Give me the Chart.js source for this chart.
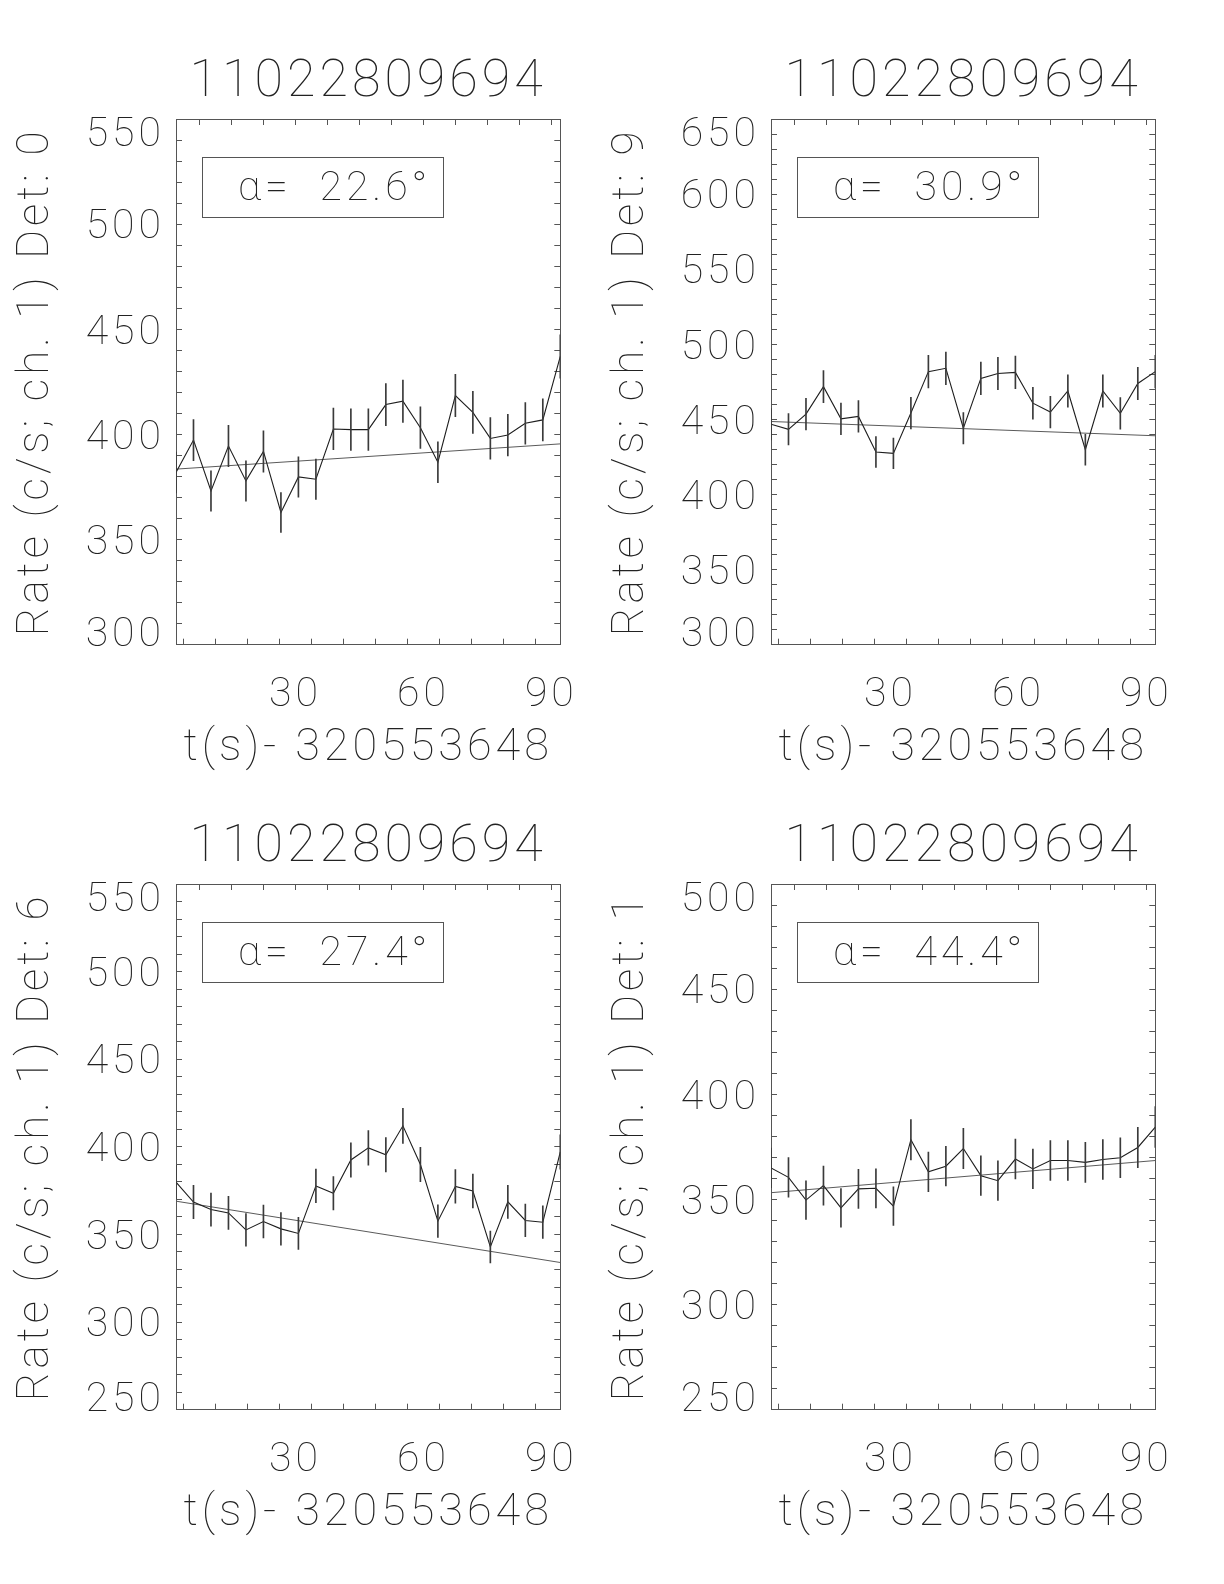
<!DOCTYPE html>
<html>
<head>
<meta charset="utf-8">
<script src="https://cdn.jsdelivr.net/npm/chart.js@4.4.1/dist/chart.umd.min.js"></script>
<style>
  html, body { margin: 0; padding: 0; background: #fff; }
  body { width: 1224px; height: 1584px; position: relative; overflow: hidden; }
  canvas { position: absolute; }
</style>
</head>
<body>
<canvas id="det0" width="612" height="792" style="left:0;top:0"></canvas>
<canvas id="det9" width="612" height="792" style="left:595px;top:0"></canvas>
<canvas id="det6" width="612" height="792" style="left:0;top:765px"></canvas>
<canvas id="det1" width="612" height="792" style="left:595px;top:765px"></canvas>
<script>
const obsId = '11022809694';
const timeOffset = '320553648';

// bin centres, seconds after the offset
const timeBins = [2.0, 6.1, 10.2, 14.3, 18.4, 22.5, 26.6, 30.7, 34.8, 38.9, 43.0, 47.1,
  51.2, 55.2, 59.3, 63.4, 67.5, 71.6, 75.7, 79.8, 83.9, 88.0, 92.1];
const xTickLabels = [30, 60, 90];

// detector 0
const rateDet0 = [381.9, 397.3, 373.1, 394.5, 377.9, 391.9, 362.9, 379.8, 378.7, 402.6, 402.3, 402.3,
  414.2, 415.8, 403.2, 386.8, 418.5, 410.5, 398.1, 399.7, 405.3, 406.9, 437.1];
const errDet0 = [9.7, 9.8, 9.6, 9.8, 9.6, 9.8, 9.5, 9.6, 9.6, 9.9, 9.9, 9.9,
  10.0, 10.1, 9.9, 9.7, 10.1, 10.0, 9.9, 9.9, 9.9, 10.0, 10.3];
const fitDet0 = [383.5, 395.5];
const yTicksDet0 = [300, 350, 400, 450, 500, 550];

// detector 9
const rateDet9 = [446.8, 443.4, 453.5, 471.8, 450.4, 452.0, 428.3, 427.4, 454.2, 481.8, 484.0, 444.1,
  477.3, 480.6, 481.3, 460.8, 454.9, 468.9, 429.8, 468.9, 454.0, 473.9, 481.8];
const errDet9 = [10.4, 10.4, 10.5, 10.7, 10.5, 10.5, 10.2, 10.2, 10.5, 10.8, 10.9, 10.4,
  10.8, 10.8, 10.8, 10.6, 10.5, 10.7, 10.2, 10.7, 10.5, 10.8, 10.8];
const fitDet9 = [448.6, 439.1];
const yTicksDet9 = [300, 350, 400, 450, 500, 550, 600, 650];

// detector 6
const rateDet6 = [379.9, 368.5, 364.2, 362.3, 352.6, 357.4, 353.2, 350.6, 377.7, 373.5, 392.5, 399.4,
  395.5, 412.0, 389.9, 357.6, 377.4, 374.8, 342.9, 368.6, 358.0, 357.0, 397.1];
const errDet6 = [9.6, 9.5, 9.4, 9.4, 9.3, 9.3, 9.3, 9.2, 9.6, 9.5, 9.8, 9.9,
  9.8, 10.0, 9.8, 9.3, 9.6, 9.6, 9.1, 9.5, 9.3, 9.3, 9.8];
const fitDet6 = [369.0, 334.0];
const yTicksDet6 = [250, 300, 350, 400, 450, 500, 550];

// detector 1
const rateDet1 = [365.0, 360.5, 349.7, 356.6, 346.0, 355.0, 355.3, 346.8, 378.4, 363.1, 365.8, 374.2,
  361.3, 358.9, 369.2, 364.5, 368.5, 368.5, 367.6, 369.0, 369.8, 374.7, 384.4];
const errDet1 = [9.4, 9.4, 9.2, 9.3, 9.2, 9.3, 9.3, 9.2, 9.6, 9.4, 9.4, 9.6,
  9.4, 9.4, 9.5, 9.4, 9.5, 9.5, 9.5, 9.5, 9.5, 9.6, 9.7];
const fitDet1 = [353.2, 368.5];
const yTicksDet1 = [250, 300, 350, 400, 450, 500];

const ink = '#222';
const family = 'Roboto';
const weight = 100;
const sizes = {title: 52, tick: 41, yTitle: 44, xTitle: 45, alpha: 41};

// wide letter spacing, a bit like the old vector fonts
const spacing = {
  id: 'spacing',
  beforeDraw(chart) { chart.ctx.letterSpacing = '4px'; },
  afterDraw(chart) { chart.ctx.letterSpacing = '0px'; }
};

const alphaBox = {
  id: 'alphaBox',
  afterDraw(chart, args, opts) {
    const {ctx, chartArea} = chart;
    ctx.save();
    ctx.strokeStyle = '#555';
    ctx.lineWidth = 1;
    ctx.strokeRect(Math.round(chartArea.left + 26) + 0.5, Math.round(chartArea.top + 38) + 0.5, 241, 60);
    ctx.font = opts.font;
    ctx.fillStyle = ink;
    ctx.letterSpacing = '4px';
    ctx.textBaseline = 'alphabetic';
    ctx.fillText(opts.text, chartArea.left + 62, chartArea.top + 81);
    ctx.restore();
  }
};

function makePanel(id, det, alpha, rates, errs, fit, yTicks) {
  const yMin = yTicks[0];
  const yMax = yTicks[yTicks.length - 1];
  const last = timeBins.length - 1;
  const edgeLabel = v => v === yMax ? ['', String(v)] : v === yMin ? [String(v), ''] : String(v);

  const grid = {
    display: true, drawOnChartArea: false, drawTicks: true,
    tickLength: -6, color: '#555', lineWidth: 1
  };
  const border = {display: true, color: '#555', width: 1};
  const xBuild = s => {
    const vals = [];
    for (let v = 7.5; v <= 90; v += 7.5) vals.push({value: v});
    s.ticks = vals;
  };

  new Chart(document.getElementById(id), {
    type: 'line',
    data: {
      datasets: [
        {
          type: 'bar',
          data: timeBins.map((t, i) => ({x: t, y: [rates[i] - errs[i], rates[i] + errs[i]]})),
          backgroundColor: '#3a3a3a',
          borderWidth: 0,
          barThickness: 1,
          grouped: false
        },
        {
          data: timeBins.map((t, i) => ({x: t, y: rates[i]})),
          borderColor: '#1e1e1e',
          borderWidth: 1.1,
          pointRadius: 0,
          tension: 0,
          fill: false
        },
        {
          data: [{x: timeBins[0], y: fit[0]}, {x: timeBins[last], y: fit[1]}],
          borderColor: '#5a5a5a',
          borderWidth: 1,
          pointRadius: 0,
          fill: false
        }
      ]
    },
    options: {
      responsive: false,
      animation: false,
      events: [],
      layout: {padding: {left: 0, right: 51.7, top: 0, bottom: 0}},
      plugins: {
        legend: {display: false},
        tooltip: {enabled: false},
        alphaBox: {text: 'α=  ' + alpha + '°', font: weight + ' ' + sizes.alpha + 'px "' + family + '"'}
      },
      scales: {
        x: {
          type: 'linear', position: 'bottom', min: timeBins[0], max: timeBins[last], offset: false,
          afterBuildTicks: xBuild,
          afterFit: s => { s.height = 147.3; },
          grid: grid, border: border,
          ticks: {
            autoSkip: false, maxRotation: 0, padding: 32, color: ink,
            font: {family: family, weight: weight, size: sizes.tick},
            callback: v => xTickLabels.includes(v) ? String(v) : ''
          },
          title: {
            display: true, text: 't(s)- ' + timeOffset, color: ink,
            font: {family: family, weight: weight, size: sizes.xTitle},
            padding: {top: 0, bottom: 16}
          }
        },
        x2: {
          type: 'linear', position: 'top', min: timeBins[0], max: timeBins[last], offset: false,
          afterBuildTicks: xBuild,
          afterFit: s => { s.height = 119; },
          grid: grid, border: border,
          ticks: {display: false},
          title: {
            display: true, text: obsId, color: ink,
            font: {family: family, weight: weight, size: sizes.title},
            padding: {top: 52, bottom: 0}
          }
        },
        y: {
          type: 'linear', position: 'left', min: yMin, max: yMax,
          afterFit: s => { s.width = 176; },
          grid: grid, border: border,
          ticks: {
            autoSkip: false, stepSize: 10, padding: 17, labelOffset: 4, color: ink,
            font: c => ({family: family, weight: weight, size: sizes.tick,
              lineHeight: (c.tick && (c.tick.value === yMax || c.tick.value === yMin)) ? 0.62 : 1.2}),
            callback: v => yTicks.includes(v) ? edgeLabel(v) : ''
          },
          title: {
            display: true, text: 'Rate (c/s; ch. 1) Det: ' + det, color: ink,
            font: {family: family, weight: weight, size: sizes.yTitle},
            padding: {top: 11, bottom: 0}
          }
        },
        y2: {
          type: 'linear', position: 'right', min: yMin, max: yMax,
          afterFit: s => { s.width = 0; },
          grid: grid, border: border,
          ticks: {display: false, stepSize: 10, autoSkip: false}
        }
      }
    },
    plugins: [spacing, alphaBox]
  });
}

makePanel('det0', 0, '22.6', rateDet0, errDet0, fitDet0, yTicksDet0);
makePanel('det9', 9, '30.9', rateDet9, errDet9, fitDet9, yTicksDet9);
makePanel('det6', 6, '27.4', rateDet6, errDet6, fitDet6, yTicksDet6);
makePanel('det1', 1, '44.4', rateDet1, errDet1, fitDet1, yTicksDet1);
</script>
</body>
</html>
